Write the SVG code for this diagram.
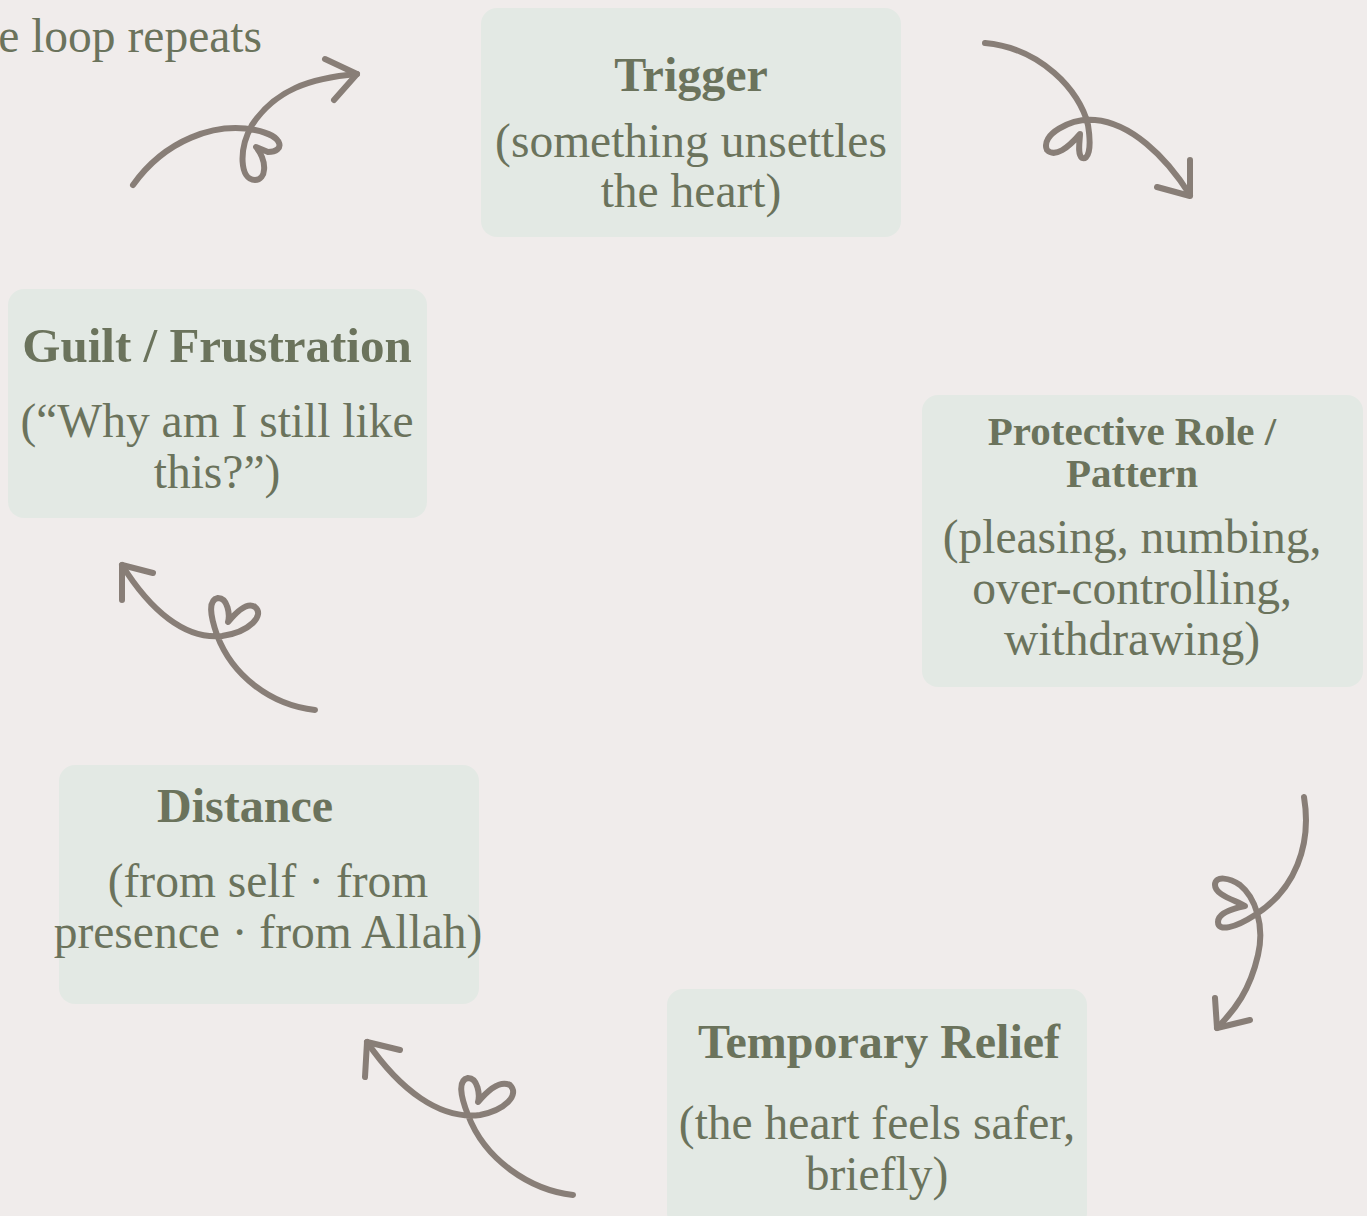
<svg xmlns="http://www.w3.org/2000/svg" width="1367" height="1216" viewBox="0 0 1367 1216">
<defs>
<style>
.box{fill:#E3E9E4;}
.t{font-family:"Liberation Serif","DejaVu Serif",serif;font-weight:bold;fill:#6B735C;text-anchor:middle;font-size:48px;}
.s{font-family:"Liberation Serif","DejaVu Serif",serif;fill:#6B735C;text-anchor:middle;font-size:47.5px;}
.a{fill:none;stroke:#887E77;stroke-width:6;stroke-linecap:round;stroke-linejoin:round;}
</style>
</defs>
<rect x="0" y="0" width="1367" height="1216" fill="#F0ECEB"/>
<text class="s" x="262" y="52" style="text-anchor:end">The loop repeats</text>
<g id="trigger">
<rect class="box" x="481" y="8" width="420" height="229" rx="16"/>
<text class="t" x="691" y="91">Trigger</text>
<text class="s" x="691" y="157">(something unsettles</text>
<text class="s" x="691" y="207">the heart)</text>
</g>
<g id="guilt">
<rect class="box" x="8" y="289" width="419" height="229" rx="16"/>
<text class="t" x="217" y="362" style="font-size:49px">Guilt / Frustration</text>
<text class="s" x="217" y="437">(“Why am I still like</text>
<text class="s" x="217" y="488">this?”)</text>
</g>
<g id="protective">
<rect class="box" x="922" y="395" width="441" height="292" rx="16"/>
<text class="t" x="1132" y="445" style="font-size:41px">Protective Role /</text>
<text class="t" x="1132" y="487" style="font-size:41px">Pattern</text>
<text class="s" x="1132" y="553">(pleasing, numbing,</text>
<text class="s" x="1132" y="604">over-controlling,</text>
<text class="s" x="1132" y="655">withdrawing)</text>
</g>
<g id="distance">
<rect class="box" x="59" y="765" width="420" height="239" rx="16"/>
<text class="t" x="245" y="822">Distance</text>
<text class="s" x="268" y="897">(from self · from</text>
<text class="s" x="268" y="948">presence · from Allah)</text>
</g>
<g id="relief">
<rect class="box" x="667" y="989" width="420" height="240" rx="16"/>
<text class="t" x="879" y="1058">Temporary Relief</text>
<text class="s" x="877" y="1139">(the heart feels safer,</text>
<text class="s" x="877" y="1190">briefly)</text>
</g>
<g id="connectors">
<path class="a" d="M133,185 C165,140 215,122 255,130 C285,136 285,152 268,152 L256,147 C268,162 266,180 255,180 C240,180 238,150 252,125 C275,90 310,78 357,74"/>
<path class="a" d="M325,59 L357,74 L334,100"/>
<path class="a" d="M985,43 C1040,48 1080,90 1088,125 C1092,150 1088,160 1082,158 C1077,154 1080,140 1080,134 C1068,148 1055,158 1047,150 C1040,135 1070,118 1095,120 C1130,123 1165,155 1190,195"/>
<path class="a" d="M1190,160 L1190,196 L1157,187"/>
<path class="a" d="M1304,797 C1312,845 1295,890 1255,915 C1235,928 1218,932 1218,922 C1218,912 1235,908 1245,906 C1235,900 1215,895 1215,885 C1215,875 1230,878 1240,885 C1255,897 1265,925 1258,955 C1250,990 1235,1010 1217,1028"/>
<path class="a" d="M1215,998 L1217,1028 L1250,1020"/>
<path class="a" d="M573,1195 C530,1190 485,1160 468,1115 C460,1095 458,1080 468,1078 C478,1078 480,1095 478,1102 C488,1090 500,1080 510,1085 C520,1095 505,1110 480,1115 C440,1120 400,1090 367,1042"/>
<path class="a" d="M365,1077 L367,1042 L400,1050"/>
<path class="a" d="M315,710 C270,705 232,675 217,635 C210,615 208,600 218,598 C228,598 230,615 228,622 C238,610 248,602 255,607 C265,615 250,632 222,636 C185,640 150,610 122,565"/>
<path class="a" d="M122,600 L122,565 L153,573"/>
</g>
</svg>
